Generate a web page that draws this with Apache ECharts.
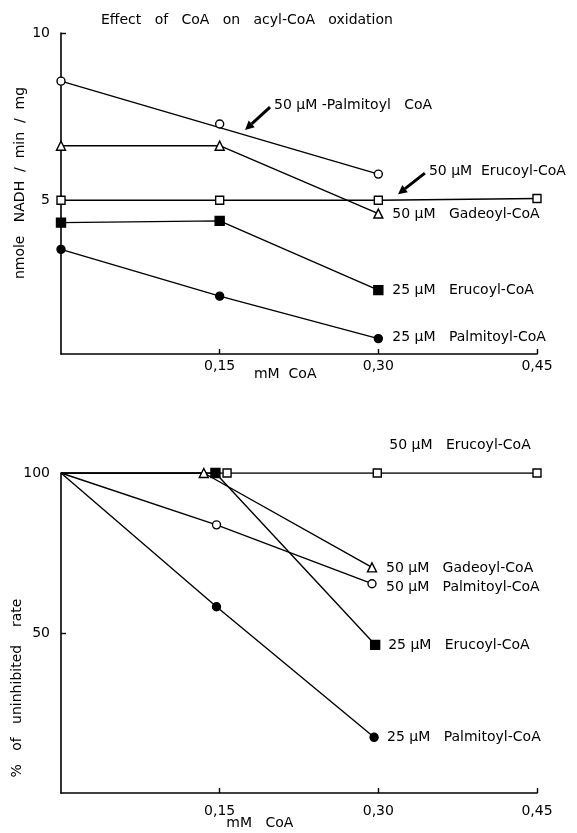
<!DOCTYPE html>
<html><head><meta charset="utf-8">
<script src="https://cdn.jsdelivr.net/npm/echarts@6/dist/echarts.min.js"></script>
<style>html,body{margin:0;padding:0;background:#fff}#c{width:577px;height:833px}</style>
</head><body><div id="c"></div>
<script>
// ---------- data ----------
const xTickValues = [0.15, 0.30, 0.45];
const topYTicks = [5, 10];
const botYTicks = [50, 100];

// Top panel: nmole NADH / min / mg
const topPalm50X = [0, 0.15, 0.30];
const topPalm50Y = [8.56, 7.28, 5.78];
const topPalm50FitX = [0, 0.30];
const topPalm50FitY = [8.56, 5.78];
const topGad50X = [0, 0.15, 0.30];
const topGad50Y = [6.63, 6.63, 4.60];
const topEru50X = [0, 0.15, 0.30, 0.45];
const topEru50Y = [5.0, 5.0, 5.0, 5.05];
const topEru25X = [0, 0.15, 0.30];
const topEru25Y = [4.33, 4.38, 2.31];
const topPalm25X = [0, 0.15, 0.30];
const topPalm25Y = [3.53, 2.13, 0.86];

// Bottom panel: % of uninhibited rate
const botEru50X = [0, 0.157, 0.299, 0.45];
const botEru50Y = [100, 100, 100, 100];
const botGad50X = [0, 0.135, 0.294];
const botGad50Y = [100, 100, 70.5];
const botPalm50X = [0, 0.147, 0.294];
const botPalm50Y = [100, 83.8, 65.4];
const botEru25X = [0, 0.146, 0.297];
const botEru25Y = [100, 100, 46.3];
const botPalm25X = [0, 0.147, 0.296];
const botPalm25Y = [100, 58.2, 17.4];

// ---------- chart ----------
const FONT = 'DejaVu Sans';
const chart = echarts.init(document.getElementById('c'), null, {renderer: 'canvas'});

const SYM = {
  oc: {symbol: 'circle', fill: '#fff', size: 8},
  tri: {symbol: 'triangle', fill: '#fff', size: 9},
  os: {symbol: 'rect', fill: '#fff', size: 8},
  fs: {symbol: 'rect', fill: '#000', size: 9},
  fc: {symbol: 'circle', fill: '#000', size: 8}
};

function series(gi, xs, ys, sym, opts) {
  opts = opts || {};
  const s = SYM[sym];
  return Object.assign({
    type: 'line',
    xAxisIndex: gi, yAxisIndex: gi,
    data: xs.map((x, i) => {
      const it = {value: [x, ys[i]]};
      if (opts.noFirstSymbol && i === 0) it.symbol = 'none';
      return it;
    }),
    symbol: s.symbol, symbolSize: s.size, showAllSymbol: true,
    itemStyle: {color: s.fill, borderColor: '#000', borderWidth: 1.4},
    lineStyle: {color: '#000', width: 1.4},
    animation: false, silent: true,
    z: 3
  }, opts.extra || {});
}

const xAxisBase = (gi, margin) => ({
  type: 'value', gridIndex: gi, min: 0, max: 0.45, interval: 0.15,
  axisLine: {lineStyle: {color: '#000', width: 1.6}},
  axisTick: {inside: true, length: 5, lineStyle: {color: '#000', width: 1.4}},
  axisLabel: {showMinLabel: false, margin: margin, color: '#000', fontFamily: FONT, fontSize: 14,
    formatter: v => v.toFixed(2).replace('.', ',')},
  splitLine: {show: false}
});

const option = {
  backgroundColor: '#fff',
  animation: false,
  grid: [
    {left: 61, right: 40, top: 33, height: 321},
    {left: 61, right: 40, top: 473, height: 320}
  ],
  xAxis: [xAxisBase(0, 5), xAxisBase(1, 11)],
  yAxis: [
    {type: 'value', gridIndex: 0, min: 0.4, max: 10,
      axisLine: {show: true, lineStyle: {color: '#000', width: 1.6}},
      axisTick: {show: true, inside: true, length: 5, customValues: topYTicks, lineStyle: {color: '#000', width: 1.4}},
      axisLabel: {customValues: topYTicks, margin: 11, color: '#000', fontFamily: FONT, fontSize: 14},
      splitLine: {show: false}},
    {type: 'value', gridIndex: 1, min: 0, max: 100, interval: 50,
      axisLine: {show: true, lineStyle: {color: '#000', width: 1.6}},
      axisTick: {show: true, inside: true, length: 5, lineStyle: {color: '#000', width: 1.4}},
      axisLabel: {showMinLabel: false, margin: 11, color: '#000', fontFamily: FONT, fontSize: 14},
      splitLine: {show: false}}
  ],
  series: [
    // top
    series(0, topPalm50FitX, topPalm50FitY, 'oc', {extra: {symbol: 'none'}}),
    series(0, topPalm50X, topPalm50Y, 'oc', {extra: {lineStyle: {width: 0, opacity: 0}}}),
    series(0, topEru50X, topEru50Y, 'os'),
    series(0, topGad50X, topGad50Y, 'tri'),
    series(0, topEru25X, topEru25Y, 'fs'),
    series(0, topPalm25X, topPalm25Y, 'fc'),
    // bottom
    series(1, botEru50X, botEru50Y, 'os', {noFirstSymbol: true}),
    series(1, botGad50X, botGad50Y, 'tri', {noFirstSymbol: true}),
    series(1, botPalm50X, botPalm50Y, 'oc', {noFirstSymbol: true}),
    series(1, botEru25X, botEru25Y, 'fs', {noFirstSymbol: true}),
    series(1, botPalm25X, botPalm25Y, 'fc', {noFirstSymbol: true})
  ]
};
chart.setOption(option);

// ---------- annotations (positioned from data coordinates) ----------
const P = (gi, pt) => chart.convertToPixel({gridIndex: gi}, pt);
const txtStyle = (t, extra) => Object.assign({text: t, fill: '#000', fontSize: 14, fontFamily: FONT, fontWeight: 'normal', verticalAlign: 'middle', align: 'left'}, extra || {});

const labels = [
  {gi: 0, at: [0.30, 4.60], dx: 14, dy: 1, t: '50 µM   Gadeoyl-CoA'},
  {gi: 0, at: [0.30, 2.31], dx: 14, dy: 0, t: '25 µM   Erucoyl-CoA'},
  {gi: 0, at: [0.30, 0.86], dx: 14, dy: -1, t: '25 µM   Palmitoyl-CoA'},
  {gi: 1, at: [0.299, 100], dx: 12, dy: -28, t: '50 µM   Erucoyl-CoA'},
  {gi: 1, at: [0.294, 70.5], dx: 14, dy: 1, t: '50 µM   Gadeoyl-CoA'},
  {gi: 1, at: [0.294, 65.4], dx: 14, dy: 4, t: '50 µM   Palmitoyl-CoA'},
  {gi: 1, at: [0.297, 46.3], dx: 13, dy: 1, t: '25 µM   Erucoyl-CoA'},
  {gi: 1, at: [0.296, 17.4], dx: 13, dy: 0, t: '25 µM   Palmitoyl-CoA'}
];
const arrows = [
  {gi: 0, from: [0.1976, 7.78], to: [0.174, 7.10], t: '50 µM -Palmitoyl   CoA'},
  {gi: 0, from: [0.344, 5.81], to: [0.3186, 5.18], t: '50 µM  Erucoyl-CoA'}
];

const graphic = [];
labels.forEach(l => {
  const p = P(l.gi, l.at);
  graphic.push({type: 'text', x: p[0] + l.dx, y: p[1] + l.dy, style: txtStyle(l.t), silent: true});
});
arrows.forEach(a => {
  const f = P(a.gi, a.from), t = P(a.gi, a.to);
  const ang = Math.atan2(t[1] - f[1], t[0] - f[0]);
  const hl = 9, hw = 4.5;
  const bx = t[0] - hl * Math.cos(ang), by = t[1] - hl * Math.sin(ang);
  const nx = -Math.sin(ang), ny = Math.cos(ang);
  graphic.push({type: 'line', shape: {x1: f[0], y1: f[1], x2: bx, y2: by}, style: {stroke: '#000', lineWidth: 3}, silent: true});
  graphic.push({type: 'polygon', shape: {points: [[t[0], t[1]], [bx + nx * hw, by + ny * hw], [bx - nx * hw, by - ny * hw]]}, style: {fill: '#000'}, silent: true});
  graphic.push({type: 'text', x: f[0] + 4, y: f[1] - 2, style: txtStyle(a.t), silent: true});
});

// titles and axis names
graphic.push({type: 'text', x: 101, y: 20, style: txtStyle('Effect   of   CoA   on   acyl-CoA   oxidation'), silent: true});
const tx = P(0, [0.212, 0.4]);
graphic.push({type: 'text', x: tx[0], y: tx[1] + 20, style: txtStyle('mM  CoA', {align: 'center'}), silent: true});
const bx0 = P(1, [0.188, 0]);
graphic.push({type: 'text', x: bx0[0], y: bx0[1] + 30, style: txtStyle('mM   CoA', {align: 'center'}), silent: true});
graphic.push({type: 'text', x: 20, y: 183, rotation: Math.PI / 2, style: txtStyle('nmole   NADH  /  min  /  mg', {align: 'center'}), silent: true});
graphic.push({type: 'text', x: 17, y: 688, rotation: Math.PI / 2, style: txtStyle('%   of   uninhibited    rate', {align: 'center'}), silent: true});

chart.setOption({graphic: graphic});
</script></body></html>
